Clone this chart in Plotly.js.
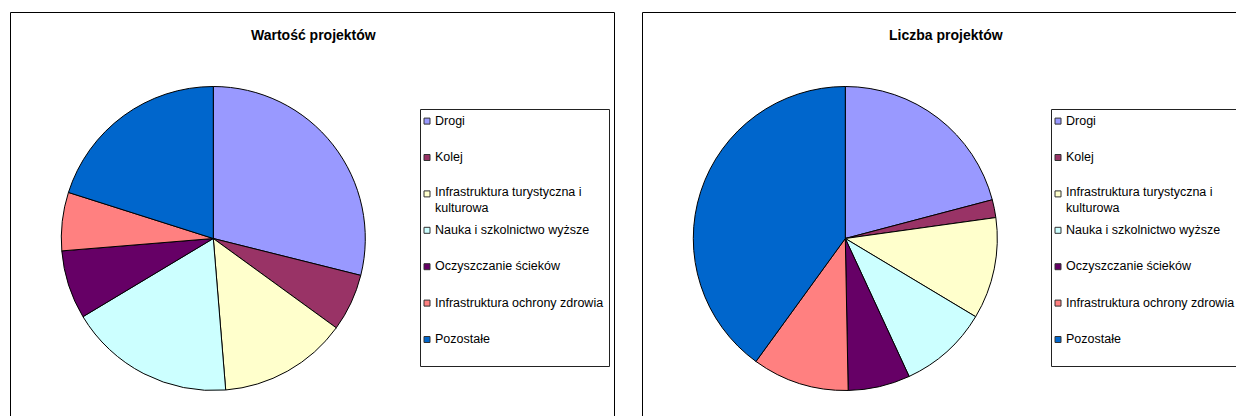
<!DOCTYPE html>
<html>
<head>
<meta charset="utf-8">
<script src="https://cdn.plot.ly/plotly-3.0.1.min.js"></script>
<style>html,body{margin:0;padding:0;background:#fff;}#chart{width:1236px;height:416px;}</style>
</head>
<body>
<div id="chart"></div>
<script>
// ---- data ----
const categories = ['Drogi', 'Kolej', 'Infrastruktura turystyczna i kulturowa', 'Nauka i szkolnictwo wyższe', 'Oczyszczanie ścieków', 'Infrastruktura ochrony zdrowia', 'Pozostałe'];
const legendLabels = ['Drogi', 'Kolej', 'Infrastruktura turystyczna i<br>kulturowa', 'Nauka i szkolnictwo wyższe', 'Oczyszczanie ścieków', 'Infrastruktura ochrony zdrowia', 'Pozostałe'];
const valueShares = [28.9, 6.1, 13.7, 17.7, 7.3, 6.2, 20.1];   // Wartość projektów (%)
const countShares = [20.9, 1.9, 10.8, 9.5, 6.6, 10.3, 40.0];   // Liczba projektów (%)
const titles = ['Wartość projektów', 'Liczba projektów'];
const colors = ['#9999FF', '#993366', '#FFFFCC', '#CCFFFF', '#660066', '#FF8080', '#0066CC'];

// ---- layout helpers ----
const W = 1236, H = 416;
const px = x => x / W;
const py = y => 1 - y / H;
const FONT = 'Liberation Sans, Arial, sans-serif';

const panels = [
  {left: 10.5, cx: 213.3, cy: 238.5, legendLeft: 420.5},
  {left: 642.5, cx: 845.3, cy: 238.5, legendLeft: 1051.5}
];
const panelWidth = 604;
const R = 152;

function pieTrace(values, p, name) {
  return {
    type: 'pie',
    name: name,
    labels: categories,
    values: values,
    sort: false,
    direction: 'clockwise',
    rotation: 0,
    textinfo: 'none',
    hoverinfo: 'label+percent',
    showlegend: false,
    marker: {colors: colors, line: {color: '#000000', width: 1}},
    domain: {
      x: [px(p.cx - R), px(p.cx + R)],
      y: [py(p.cy + R), py(p.cy - R)]
    }
  };
}

const shapes = [];
const annotations = [];

panels.forEach((p, i) => {
  // panel frame
  shapes.push({type: 'rect', xref: 'paper', yref: 'paper',
    x0: px(p.left), x1: px(p.left + panelWidth), y0: py(12.5), y1: py(440),
    line: {color: '#000000', width: 1}, fillcolor: 'rgba(0,0,0,0)', layer: 'below'});
  // title
  annotations.push({xref: 'paper', yref: 'paper', x: px(p.left + panelWidth / 2 + 1), y: py(35.5),
    xanchor: 'center', yanchor: 'middle', showarrow: false, borderpad: 0, borderwidth: 0,
    text: titles[i], font: {family: FONT, size: 14, color: '#000', weight: 'bold'}});
  // legend box
  shapes.push({type: 'rect', xref: 'paper', yref: 'paper',
    x0: px(p.legendLeft), x1: px(p.legendLeft + 189), y0: py(109.5), y1: py(366.5),
    line: {color: '#222222', width: 1}, fillcolor: '#ffffff'});
  // legend items
  legendLabels.forEach((lab, k) => {
    const slot = 120.6 + k * 36.4;
    const mx = p.legendLeft + 6.5;
    shapes.push({type: 'rect', xref: 'paper', yref: 'paper',
      x0: px(mx - 3), x1: px(mx + 3), y0: py(slot - 2.5), y1: py(slot + 3.5),
      line: {color: '#333333', width: 1}, fillcolor: colors[k]});
    const lines = lab.split('<br>').length;
    annotations.push({xref: 'paper', yref: 'paper', x: px(p.legendLeft + 14.5),
      y: py(slot + 7 * (lines - 1)), xanchor: 'left', yanchor: 'middle', align: 'left',
      showarrow: false, borderpad: 0, borderwidth: 0, text: lab,
      font: {family: FONT, size: 12.5, color: '#000'}});
  });
});

const data = [
  pieTrace(valueShares, panels[0], titles[0]),
  pieTrace(countShares, panels[1], titles[1])
];

const layout = {
  width: W, height: H,
  margin: {l: 0, r: 0, t: 0, b: 0},
  paper_bgcolor: '#ffffff',
  plot_bgcolor: '#ffffff',
  showlegend: false,
  shapes: shapes,
  annotations: annotations,
  font: {family: FONT}
};

Plotly.newPlot('chart', data, layout, {displayModeBar: false, staticPlot: true});
</script>
</body>
</html>
